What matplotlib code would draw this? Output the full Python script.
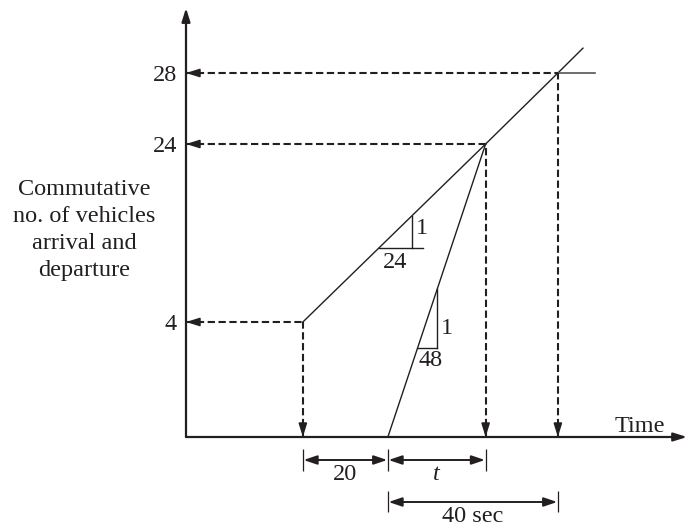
import matplotlib.pyplot as plt
import numpy as np

# cumulative vehicles marked on the y axis
count_ticks = [4, 24, 28]
count_labels = ['4', '24', '28']

# times in seconds (the sketch is roughly to scale along x)
t_change = 27.5   # arrival line leaves the count of 4
red_gap = 20      # departures start 20 s later
t_clear = 23      # "t" : queue has cleared
cycle = 40        # "40 sec"

arr_t = [t_change, t_change + red_gap + t_clear, t_change + red_gap + cycle, 93.4]
arr_n = [4, 24, 28, 29.4]
dep_t = [t_change + red_gap, t_change + red_gap + t_clear]
dep_n = [0, 24]

ink = '#231f20'
plt.rcParams['font.family'] = ['Liberation Serif', 'DejaVu Serif']
fs = 17.5

# y axis is not to scale in the sketch: piecewise stretch
y_vals = [-10, 0, 4, 24, 28, 40]
y_disp = [-287.5, 0, 115, 293, 364, 577]


def fwd(v):
    return np.interp(v, y_vals, y_disp)


def inv(d):
    return np.interp(d, y_disp, y_vals)


def on_line(ax, p0, p1, x):
    # point of the straight (on screen) segment p0-p1 at data x
    a, b = ax.transData.transform([p0, p1])
    xd = ax.transData.transform([(x, 0)])[0][0]
    yd = a[1] + (b[1] - a[1]) * (xd - a[0]) / (b[0] - a[0])
    return ax.transData.inverted().transform([(xd, yd)])[0]


def slope_triangle(ax, p0, p1, x_left, x_leg, x_end, rise, run, rpos, dpos):
    left = on_line(ax, p0, p1, x_left)
    top = on_line(ax, p0, p1, x_leg)
    y = left[1]
    ax.plot([left[0], x_end], [y, y], color=ink, lw=1.0)
    ax.plot([x_leg, x_leg], [y, top[1]], color=ink, lw=1.0)
    ax.text(rpos[0], rpos[1], rise, fontsize=fs, ha='center', va='center', color=ink)
    ax.text(dpos[0], dpos[1], run, fontsize=fs, ha='center', va='center', color=ink)


fig = plt.figure(figsize=(6.88, 5.26), dpi=100)
ax = fig.add_axes([0, 0, 1, 1])
ax.set_yscale('function', functions=(fwd, inv))
px = 4.25
ax.set_xlim(-186 / px, 502 / px)
ax.set_ylim(inv(-89), inv(437))
ax.axis('off')

head = '-|>,head_length=0.8,head_width=0.25'
both = '<|-|>,head_length=0.8,head_width=0.27'

# axes with arrows
ax.annotate('', xy=(117.9, 0), xytext=(0, 0),
            arrowprops=dict(arrowstyle=head, lw=1.6, color=ink, mutation_scale=10,
                            shrinkA=0, shrinkB=0))
ax.annotate('', xy=(0, inv(429)), xytext=(0, 0),
            arrowprops=dict(arrowstyle=head, lw=1.6, color=ink, mutation_scale=10,
                            shrinkA=0, shrinkB=0))

# arrival and departure curves
ax.plot(arr_t, arr_n, color=ink, lw=1.0)
ax.plot(dep_t, dep_n, color=ink, lw=1.0)
ax.plot([arr_t[2], 96.2], [28, 28], color='#555555', lw=1.2)

# dashed projections to both axes
dash = (0, (3.5, 1.7))
for t, n in zip(arr_t[:3], arr_n[:3]):
    ax.plot([0, t], [n, n], color=ink, lw=1.5, linestyle=dash)
    ax.plot([t, t], [0, n], color=ink, lw=1.5, linestyle=dash)
    ax.annotate('', xy=(0, n), xytext=(8, 0), textcoords='offset points',
                arrowprops=dict(arrowstyle=head, lw=1.2, color=ink, mutation_scale=10,
                                shrinkA=0, shrinkB=0))
    ax.annotate('', xy=(t, 0), xytext=(0, 8), textcoords='offset points',
                arrowprops=dict(arrowstyle=head, lw=1.2, color=ink, mutation_scale=10,
                                shrinkA=0, shrinkB=0))

for v, lbl in zip(count_ticks, count_labels):
    ax.annotate(lbl, xy=(0, v), xytext=(-6.5, 0), textcoords='offset points',
                ha='right', va='center_baseline', fontsize=fs, color=ink)

# slope triangles
slope_triangle(ax, (arr_t[0], arr_n[0]), (arr_t[1], arr_n[1]),
               45.4, 53.2, 55.8, '1', '24',
               ((422 - 186) / px, inv(437 - 228)), ((395 - 186) / px, inv(437 - 262)))
slope_triangle(ax, (dep_t[0], dep_n[0]), (dep_t[1], dep_n[1]),
               54.5, 59.1, 59.1, '1', '48',
               ((447 - 186) / px, inv(437 - 328)), ((431 - 186) / px, inv(437 - 360)))

# dimension lines below the time axis
row1, row2 = inv(-23), inv(-65)
ticks1 = [arr_t[0], dep_t[0], dep_t[1]]
ax.vlines(ticks1, inv(-12), inv(-34), color=ink, lw=0.9)
ax.vlines([dep_t[0], arr_t[2]], inv(-54), inv(-75), color=ink, lw=0.9)
for a, b in [(ticks1[0], ticks1[1]), (ticks1[1], ticks1[2]), (dep_t[0], arr_t[2])]:
    y = row2 if b == arr_t[2] else row1
    ax.annotate('', xy=(b, y), xytext=(a, y),
                arrowprops=dict(arrowstyle=both, lw=1.4, color=ink, mutation_scale=10,
                                shrinkA=0.5, shrinkB=0.5))

ax.text((ticks1[0] + ticks1[1]) / 2, inv(437 - 474), str(red_gap), fontsize=fs,
        ha='center', va='center', color=ink)
ax.text((ticks1[1] + ticks1[2]) / 2, inv(437 - 475), 't', fontsize=fs, style='italic',
        ha='center', va='center', color=ink)
ax.text((dep_t[0] + arr_t[2]) / 2, inv(437 - 516), '%d sec' % cycle, fontsize=fs,
        ha='center', va='center', color=ink)

ax.text((615 - 186) / px, inv(437 - 426), 'Time', fontsize=fs, ha='left', va='center',
        color=ink)
ax.text((84 - 186) / px, inv(437 - 230),
        'Commutative\nno. of vehicles\narrival and\ndeparture',
        fontsize=fs, ha='center', va='center', linespacing=1.38, color=ink)

fig.savefig('out.png', dpi=100)
